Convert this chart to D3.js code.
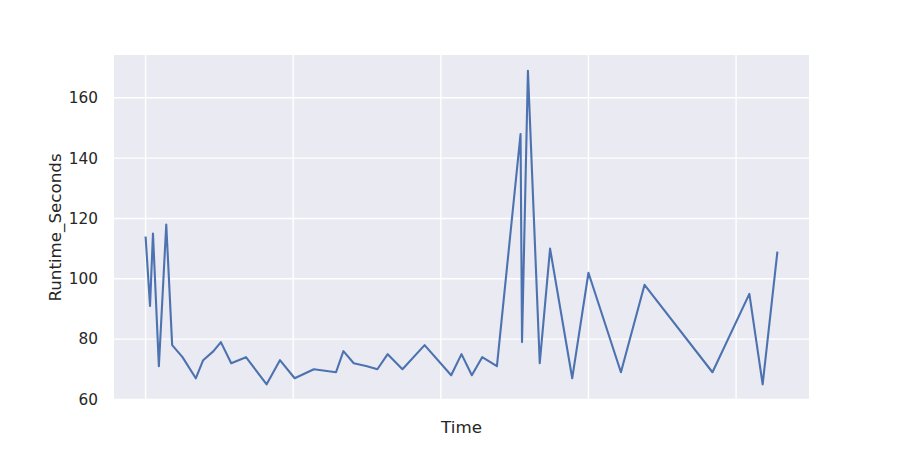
<!DOCTYPE html>
<html>
<head>
<meta charset="utf-8">
<script src="https://cdn.jsdelivr.net/npm/d3@7"></script>
<style>
  html, body { margin: 0; padding: 0; background: #ffffff; }
  svg { display: block; }
  text { font-family: "DejaVu Sans", sans-serif; fill: #262626; }
</style>
</head>
<body>
<svg id="chart" width="900" height="450"></svg>
<script>
// Time (arbitrary units; x tick labels are hidden in the reference)
const times = [0,3,5,9,14,18,25,34,39,46,51,58,68,82,91,101,114,129,134,141,150,157,164,174,189,207,214,221,228,238,254,255,259,267,274,289,300,322,338,384,409,418,428];
const runtimeSeconds = [114,91,115,71,118,78,74,67,73,76,79,72,74,65,73,67,70,69,76,72,71,70,75,70,78,68,75,68,74,71,148,79,169,72,110,67,102,69,98,69,95,65,109];
const yTicks = [60,80,100,120,140,160];
const xGridTicks = [0,100,200,300,400];
const xLabel = "Time";
const yLabel = "Runtime_Seconds";

const svg = d3.select("#chart");
const margin = {left: 114, right: 91, top: 55, bottom: 50};
const W = 900, H = 450;
const pw = W - margin.left - margin.right;
const ph = H - margin.top - margin.bottom;

const data = times.map((t, i) => ({t, v: runtimeSeconds[i]}));

const xmin = d3.min(times), xmax = d3.max(times);
const xm = (xmax - xmin) * 0.05;
const ymin = d3.min(runtimeSeconds), ymax = d3.max(runtimeSeconds);
const ym = (ymax - ymin) * 0.05;

const x = d3.scaleLinear().domain([xmin - xm, xmax + xm]).range([0, pw]);
const y = d3.scaleLinear().domain([ymin - ym, ymax + ym]).range([ph, 0]);

const g = svg.append("g").attr("transform", `translate(${margin.left},${margin.top})`);

g.append("rect").attr("width", pw).attr("height", ph).attr("fill", "#EAEAF2");

// grid
g.append("g").selectAll("line").data(xGridTicks).join("line")
  .attr("x1", d => x(d)).attr("x2", d => x(d))
  .attr("y1", 0).attr("y2", ph)
  .attr("stroke", "#ffffff").attr("stroke-width", 1.4);
g.append("g").selectAll("line").data(yTicks).join("line")
  .attr("x1", 0).attr("x2", pw)
  .attr("y1", d => y(d)).attr("y2", d => y(d))
  .attr("stroke", "#ffffff").attr("stroke-width", 1.4);

// y axis labels
const yAxis = d3.axisLeft(y).tickValues(yTicks).tickSize(0).tickPadding(16);
const ya = g.append("g").call(yAxis);
ya.select(".domain").remove();
ya.selectAll("text").style("font-size", "15.3px").attr("fill", "#262626")
  .style("font-family", "DejaVu Sans, sans-serif");

// line
const line = d3.line().x(d => x(d.t)).y(d => y(d.v));
g.append("path").datum(data)
  .attr("d", line)
  .attr("fill", "none")
  .attr("stroke", "#4C72B0")
  .attr("stroke-width", 2.1)
  .attr("stroke-linejoin", "round")
  .attr("stroke-linecap", "butt");

// axis titles
svg.append("text")
  .attr("x", margin.left + pw / 2)
  .attr("y", 433)
  .attr("text-anchor", "middle")
  .style("font-size", "16.7px")
  .text(xLabel);

svg.append("text")
  .attr("transform", `translate(61,${margin.top + ph / 2}) rotate(-90)`)
  .attr("text-anchor", "middle")
  .style("font-size", "16.7px")
  .text(yLabel);
</script>
</body>
</html>
